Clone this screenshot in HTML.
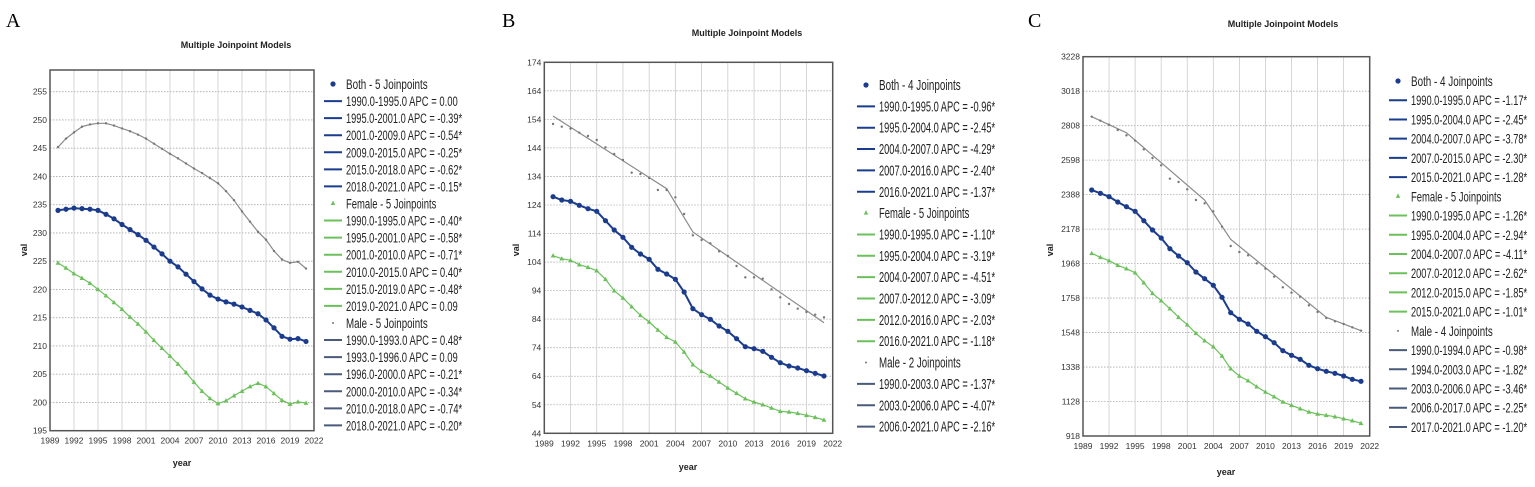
<!DOCTYPE html>
<html><head><meta charset="utf-8">
<style>
html,body{margin:0;padding:0;background:#fff;}
svg{display:block;font-family:"Liberation Sans",sans-serif;}
</style></head>
<body>
<svg id="s" width="1535" height="487" viewBox="0 0 1535 487" xmlns="http://www.w3.org/2000/svg">
<text x="6" y="27" font-family="Liberation Serif" font-size="20">A</text>
<text x="502" y="27" font-family="Liberation Serif" font-size="20">B</text>
<text x="1028" y="27" font-family="Liberation Serif" font-size="20">C</text>
</svg>
<script>
var S=document.getElementById('s'),NS='http://www.w3.org/2000/svg';
function el(t,a,txt){var e=document.createElementNS(NS,t);for(var k in a)e.setAttribute(k,a[k]);if(txt!=null)e.textContent=txt;S.appendChild(e);return e;}
var BLUE='#1b3c8c',GREEN='#6cc05c',GRAY='#8a8a8a';
function panel(P){
 var X0=P.x0,X1=P.x1,Y0=P.y0,Y1=P.y1;
 function xs(yr){return X0+(yr-1989)*(X1-X0)/33;}
 for(var i=0;i<P.yt.length;i++){var y=P.yt[i][1];
  if(y>Y0+1&&y<Y1-1)el('line',{x1:X0,x2:X1,y1:y,y2:y,stroke:'#aaa','stroke-width':0.8,'stroke-dasharray':'1.5,1.5'});
  el('text',{x:X0-3,y:y+3,'font-size':8.5,'text-anchor':'end',fill:'#333'},P.yt[i][0]);}
 for(var yr=1989;yr<=2022;yr+=3){var x=xs(yr);
  if(yr>1989&&yr<2022)el('line',{x1:x,x2:x,y1:Y0,y2:Y1,stroke:'#ccc','stroke-width':0.8});
  el('text',{x:x,y:Y1+13,'font-size':8.5,'text-anchor':'middle',fill:'#333'},String(yr));}
 el('rect',{x:X0,y:Y0,width:X1-X0,height:Y1-Y0,fill:'none',stroke:'#555','stroke-width':1.5});
 el('text',{x:P.tx,y:P.ty,'font-size':9,'font-weight':'bold','text-anchor':'middle',fill:'#222'},'Multiple Joinpoint Models');
 el('text',{x:P.vx,y:P.vy,'font-size':9,'font-weight':'bold','text-anchor':'middle',fill:'#222',transform:'rotate(-90 '+P.vx+' '+P.vy+')'},'val');
 el('text',{x:P.yx,y:P.yy,'font-size':9,'font-weight':'bold','text-anchor':'middle',fill:'#222'},'year');
 var ser=[[P.male,GRAY,'m',P.maleFit],[P.both,BLUE,'b'],[P.fem,GREEN,'f']];
 ser.forEach(function(s){
  var d=s[0],pts=[];for(var i=0;i<d.length;i++)pts.push(xs(1990+i).toFixed(1)+','+P.ym(d[i]).toFixed(1));
  var lp=pts;
  if(s[3]){lp=s[3].map(function(q){return xs(q[0]).toFixed(1)+','+P.ym(q[1]).toFixed(1);});}
  el('polyline',{points:lp.join(' '),fill:'none',stroke:s[1],'stroke-width':s[2]=='b'?2:1.2});
  for(var i=0;i<d.length;i++){var x=xs(1990+i),y=P.ym(d[i]);
   if(s[2]=='b')el('circle',{cx:x,cy:y,r:2.6,fill:BLUE});
   else if(s[2]=='f')el('path',{d:'M'+x+' '+(y-2.6)+'L'+(x+2.4)+' '+(y+1.8)+'L'+(x-2.4)+' '+(y+1.8)+'Z',fill:GREEN});
   else el('circle',{cx:x,cy:y,r:1.2,fill:'#777'});}
 });
 var L=P.leg,y=L.y;
 L.rows.forEach(function(r){
  var t=r[0],c=r[1];
  if(r[2]){var mx=L.mx;
   if(c==BLUE)el('circle',{cx:mx,cy:y-5,r:2.6,fill:BLUE});
   else if(c==GREEN)el('path',{d:'M'+mx+' '+(y-8)+'L'+(mx+2.2)+' '+(y-3.5)+'L'+(mx-2.2)+' '+(y-3.5)+'Z',fill:GREEN});
   else el('circle',{cx:mx,cy:y-5,r:1,fill:'#777'});}
  else el('line',{x1:L.lx0,x2:L.lx1,y1:y-5,y2:y-5,stroke:c=='m'?'#4a5a7a':c,'stroke-width':2});
  el('text',{x:L.tx,y:y,'font-size':L.fs,fill:'#222',textLength:(t.length*4.3).toFixed(1),lengthAdjust:'spacingAndGlyphs'},t);
  y+=L.dy;});
}
var A={x0:50,x1:314,y0:70,y1:430.7,ym:function(v){return 430.7-(v-195)*5.65;},
 tx:236,ty:48,vx:27,vy:250,yx:182,yy:466,yt:[],
 both:[234,234.2,234.4,234.3,234.2,234,233.3,232.5,231.5,230.6,229.7,228.7,227.5,226.3,225,224,222.7,221.4,220.1,219,218.3,217.8,217.4,216.9,216.3,215.7,214.6,213.2,211.7,211.2,211.3,210.8],
 fem:[224.7,223.8,222.8,222,221.1,220,218.9,217.7,216.5,215.1,213.9,212.5,211,209.6,208.2,206.8,205.3,203.6,202,200.7,199.8,200.3,201.2,202,202.8,203.4,202.8,201.6,200.4,199.7,200.1,199.9],
 male:[245.2,246.7,247.8,248.8,249.2,249.4,249.4,249,248.5,248,247.4,246.7,245.8,244.9,244,243.2,242.3,241.4,240.6,239.7,238.8,237.4,235.8,233.8,232,230.2,228.8,226.8,225.3,224.7,224.9,223.7],
 leg:{y:89,dy:17.07,mx:333,lx0:324,lx1:342,tx:346,fs:13.5,rows:[]}};
for(var v=195;v<=255;v+=5)A.yt.push([String(v),A.ym(v)]);
function rows(list){var r=[];list.forEach(function(g){r.push([g[0],g[1],1]);g[2].forEach(function(t){r.push([t,g[1]==GRAY?'m':g[1]]);});});return r;}
A.leg.rows=rows([["Both - 5 Joinpoints",BLUE,["1990.0-1995.0 APC  =  0.00","1995.0-2001.0 APC  = -0.39*","2001.0-2009.0 APC  = -0.54*","2009.0-2015.0 APC  = -0.25*","2015.0-2018.0 APC  = -0.62*","2018.0-2021.0 APC  = -0.15*"]],
["Female - 5 Joinpoints",GREEN,["1990.0-1995.0 APC  = -0.40*","1995.0-2001.0 APC  = -0.58*","2001.0-2010.0 APC  = -0.71*","2010.0-2015.0 APC  =  0.40*","2015.0-2019.0 APC  = -0.48*","2019.0-2021.0 APC  =  0.09"]],
["Male - 5 Joinpoints",GRAY,["1990.0-1993.0 APC  =  0.48*","1993.0-1996.0 APC  =  0.09","1996.0-2000.0 APC  = -0.21*","2000.0-2010.0 APC  = -0.34*","2010.0-2018.0 APC  = -0.74*","2018.0-2021.0 APC  = -0.20*"]]]);
panel(A);
function z(a){return a.map(function(v){return v/3;});}
var B={x0:544.3,x1:832.7,y0:62.3,y1:433.3,ym:function(v){return v;},tx:747,ty:36,vx:519,vy:250,yx:688,yy:470,yt:[],
 both:z([590,600,604,616,626,634,662,690,712,742,762,778,808,822,838,876,926,944,958,978,994,1016,1040,1046,1054,1072,1088,1098,1104,1112,1120,1128]),
 fem:z([767,776,781,794,802,812,838,872,894,920,946,966,990,1012,1026,1056,1094,1114,1128,1146,1164,1180,1196,1206,1214,1224,1234,1236,1240,1246,1252,1260]),
 male:z([372,380,386,398,408,420,442,462,480,518,522,534,570,570,592,642,706,720,730,754,768,798,832,832,836,868,892,912,926,936,944,952]),
 maleFit:[[1990,348/3],[2003,566/3],[2006,696/3],[2021,968/3]],
 leg:{y:90,dy:21.35,mx:866,lx0:857,lx1:875,tx:879,fs:15,rows:[]}};
for(var v=44;v<=174;v+=10)B.yt.push([String(v),433.3-(v-44)*2.854]);
B.leg.rows=rows([["Both - 4 Joinpoints",BLUE,["1990.0-1995.0 APC  = -0.96*","1995.0-2004.0 APC  = -2.45*","2004.0-2007.0 APC  = -4.29*","2007.0-2016.0 APC  = -2.40*","2016.0-2021.0 APC  = -1.37*"]],
["Female - 5 Joinpoints",GREEN,["1990.0-1995.0 APC  = -1.10*","1995.0-2004.0 APC  = -3.19*","2004.0-2007.0 APC  = -4.51*","2007.0-2012.0 APC  = -3.09*","2012.0-2016.0 APC  = -2.03*","2016.0-2021.0 APC  = -1.18*"]],
["Male - 2 Joinpoints",GRAY,["1990.0-2003.0 APC  = -1.37*","2003.0-2006.0 APC  = -4.07*","2006.0-2021.0 APC  = -2.16*"]]]);
panel(B);
var C={x0:1083,x1:1369.7,y0:56.7,y1:436,ym:function(v){return v;},tx:1283,ty:27,vx:1053,vy:250,yx:1226,yy:475,yt:[],
 both:z([570,580,590,606,620,634,662,690,714,746,768,788,816,836,856,892,938,958,972,994,1010,1028,1052,1066,1078,1096,1106,1114,1120,1128,1138,1144]),
 fem:z([760,772,782,796,806,818,848,880,902,926,952,974,1000,1022,1040,1068,1106,1128,1142,1160,1176,1190,1206,1216,1226,1236,1242,1246,1250,1256,1262,1270]),
 male:z([350,362,374,390,406,422,448,474,496,536,546,568,600,610,634,680,738,756,766,790,806,830,862,878,890,916,936,954,964,972,982,992]),
 maleFit:[[1990,350/3],[1994,398/3],[2003,600/3],[2006,718/3],[2017,952/3],[2021,992/3]],
 leg:{y:86,dy:19.22,mx:1398,lx0:1389,lx1:1407,tx:1411,fs:14,rows:[]}};
for(var k=0;k<=11;k++)C.yt.push([String(918+210*k),436-k*34.48]);
C.leg.rows=rows([["Both - 4 Joinpoints",BLUE,["1990.0-1995.0 APC  = -1.17*","1995.0-2004.0 APC  = -2.45*","2004.0-2007.0 APC  = -3.78*","2007.0-2015.0 APC  = -2.30*","2015.0-2021.0 APC  = -1.28*"]],
["Female - 5 Joinpoints",GREEN,["1990.0-1995.0 APC  = -1.26*","1995.0-2004.0 APC  = -2.94*","2004.0-2007.0 APC  = -4.11*","2007.0-2012.0 APC  = -2.62*","2012.0-2015.0 APC  = -1.85*","2015.0-2021.0 APC  = -1.01*"]],
["Male - 4 Joinpoints",GRAY,["1990.0-1994.0 APC  = -0.98*","1994.0-2003.0 APC  = -1.82*","2003.0-2006.0 APC  = -3.46*","2006.0-2017.0 APC  = -2.25*","2017.0-2021.0 APC  = -1.20*"]]]);
panel(C);
</script>
</body></html>
